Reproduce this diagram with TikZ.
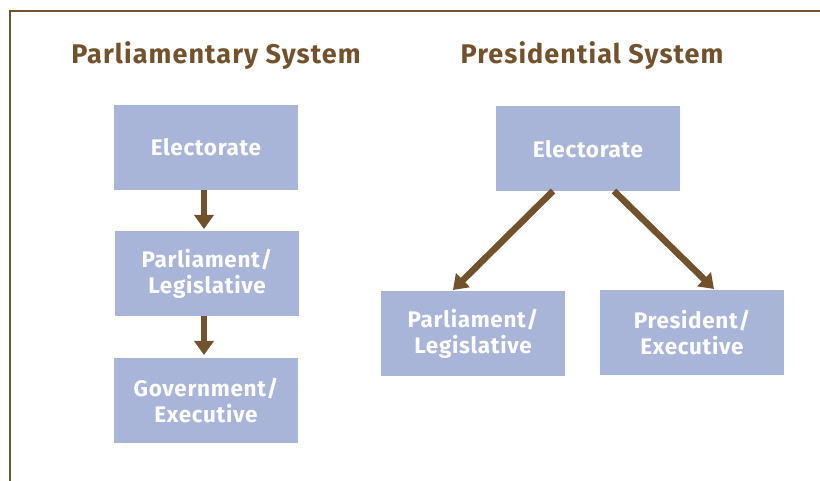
\documentclass[tikz,border=0pt]{standalone}
\usepackage{fontspec}
\setmainfont{Fira Sans}
\newfontfamily\boxfont[LetterSpace=3]{Fira Sans}
\newfontfamily\titlefont[LetterSpace=4]{Fira Sans}
\usetikzlibrary{arrows.meta}
\definecolor{boxblue}{HTML}{A8B5D8}
\definecolor{brownc}{HTML}{72522C}
\begin{document}
\begin{tikzpicture}[x=1pt,y=-1pt,
  box/.style={fill=boxblue,draw=none,minimum width=184pt,minimum height=85pt,inner sep=0pt,
    text=white,font=\boxfont\fontsize{22.5}{26}\selectfont\bfseries,align=center},
  title/.style={text=brownc,font=\titlefont\fontsize{27}{30}\selectfont\bfseries},
  arr/.style={draw=brownc,line width=6.5pt,-{Triangle[length=14pt,width=19pt]}}]
\useasboundingbox (0,0) rectangle (820,481);
\draw[brownc,line width=1.6pt] (10,481) -- (10,11) -- (820,11);
\node[title] (t1) at (216,56) {Parliamentary System};
\node[title] (t2) at (592,56) {Presidential System};
\node[box] (pe) at (206,147.5) {Electorate};
\node[box] (pp) at (207,273.5) {Parliament/\\Legislative};
\node[box] (pg) at (206,400.5) {Government/\\Executive};
\node[box] (re) at (588,149) {Electorate};
\node[box] (rp) at (473,333.5) {Parliament/\\Legislative};
\node[box] (rx) at (692,332.5) {President/\\Executive};
\draw[arr] (204,190) -- (204,229);
\draw[arr] (204,316) -- (204,355);
\draw[arr] (553,191) -- (453,290);
\draw[arr] (614,191) -- (714,289);
\end{tikzpicture}
\end{document}
